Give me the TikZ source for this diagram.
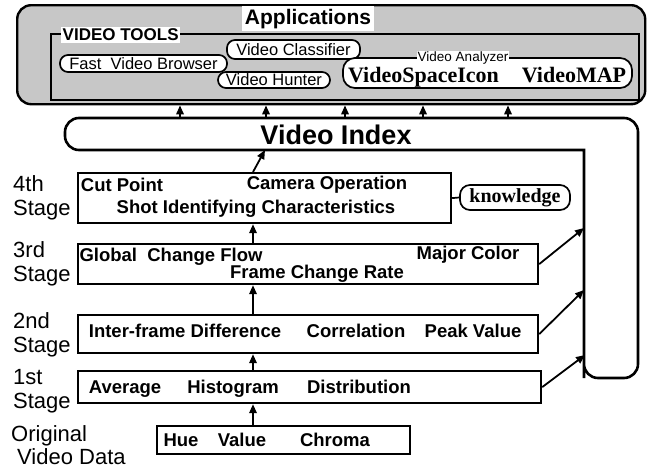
\documentclass[tikz,border=0pt]{standalone}
\usepackage{fontspec}
\setmainfont{Liberation Sans}
\newfontfamily\timesbf{Liberation Serif}
\usetikzlibrary{arrows.meta}

\begin{document}
\begin{tikzpicture}[x=1pt,y=-1pt,
  arr/.style={-{Triangle[length=9pt,width=7.5pt]},line width=1.8pt},
  stagebox/.style={draw,line width=2.2pt,inner sep=0pt,anchor=north west},
  pill/.style={draw,fill=white,line width=1.7pt,rounded corners=8pt,inner sep=0pt,
    font=\fontsize{16.5}{18}\selectfont},
  word/.style={inner sep=0pt,anchor=base,font=\fontsize{18.5}{20}\selectfont\bfseries},
  stagelbl/.style={inner sep=0pt,anchor=west,align=left,font=\fontsize{22}{23.5}\selectfont},
  bigserif/.style={inner sep=0pt,anchor=base,font=\fontsize{22}{24}\selectfont\timesbf\bfseries}]
\useasboundingbox (0,0) rectangle (650,471);

% applications
\node[draw,line width=2.4pt,rounded corners=14pt,fill=black!22,minimum width=628pt,
  minimum height=99pt,anchor=north west] (apps) at (16,4) {};
\node[fill=white,inner sep=2.5pt,anchor=base,font=\fontsize{21}{22}\selectfont\bfseries]
  (appstitle) at (308,24) {Applications};
\node[draw,line width=2pt,minimum width=588pt,minimum height=66pt,anchor=north west]
  (tools) at (50,33) {};
\node[fill=white,inner sep=1.5pt,anchor=west,font=\fontsize{17}{19}\selectfont\bfseries]
  (toolstitle) at (61,35) {VIDEO TOOLS};

\node[pill,minimum width=167pt,minimum height=17pt] (browser) at (143.5,63.5) {Fast\ \ Video Browser};
\node[pill,minimum width=133pt,minimum height=19pt] (classifier) at (293.5,49.5) {Video Classifier};
\node[pill,minimum width=112pt,minimum height=16pt] (hunter) at (274,80) {Video Hunter};
\node[pill,rounded corners=12pt,minimum width=289pt,minimum height=30pt] (analyzer) at (487.5,73) {};
\node[fill=white,inner sep=0.5pt,font=\fontsize{13.5}{15}\selectfont] (analyzertitle) at (463,58) {Video Analyzer};
\node[bigserif] (spaceicon) at (423.5,82) {VideoSpaceIcon};
\node[bigserif] (videomap) at (574,82) {VideoMAP};

% video index
\draw[line width=2.6pt] (65,134) [rounded corners=14pt] -- (65,118) -- (638,118) -- (638,378)
  -- (584,378) -- (584,364) [sharp corners] -- (584,150) -- (79,150) [rounded corners=14pt]
  -- (65,150) -- (65,134);
\node[word,font=\fontsize{27}{28}\selectfont\bfseries] (vilabel) at (336,144) {Video Index};
\foreach \x [count=\i] in {180,266,345,423,508}{
  \coordinate (up\i) at (\x,118);
  \draw[arr] (up\i) -- (up\i |- apps.south);
}
\coordinate (viin) at (265,150);
\coordinate (vi3) at (584,228);
\coordinate (vi2) at (584,290);
\coordinate (vi1) at (585,355);

% stages
\node[stagebox,minimum width=373pt,minimum height=50pt] (s4) at (77,172) {};
\node[stagebox,minimum width=460pt,minimum height=40pt] (s3) at (77,243) {};
\node[stagebox,minimum width=460pt,minimum height=38pt] (s2) at (77,314) {};
\node[stagebox,minimum width=463pt,minimum height=32pt] (s1) at (77,370) {};
\node[stagebox,minimum width=253pt,minimum height=28pt] (s0) at (156,425) {};

\node[stagelbl] (l4) at (13,198) {4th\\Stage};
\node[stagelbl] (l3) at (13,264) {3rd\\Stage};
\node[stagelbl] (l2) at (13,335) {2nd\\Stage};
\node[stagelbl] (l1) at (13,391) {1st\\Stage};
\node[stagelbl] (l0) at (11,445) {Original\\\hspace{6pt}Video Data};

\node[word] (cut) at (122,191) {Cut Point};
\node[word] (camera) at (327,189) {Camera Operation};
\node[word] (shot) at (256,213) {Shot Identifying Characteristics};
\node[word] (global) at (171,261) {Global\ \ Change Flow};
\node[word] (major) at (468,259) {Major Color};
\node[word] (rate) at (317,278) {Frame Change Rate};
\node[word] (inter) at (185,337) {Inter-frame Difference};
\node[word] (corr) at (356,337) {Correlation};
\node[word] (peak) at (473,337) {Peak Value};
\node[word] (avg) at (125,393) {Average};
\node[word] (hist) at (233,393) {Histogram};
\node[word] (distr) at (359,393) {Distribution};
\node[word] (hue) at (181,446) {Hue};
\node[word] (value) at (242,446) {Value};
\node[word] (chroma) at (335,446) {Chroma};

\node[pill,minimum width=110pt,minimum height=25pt,rounded corners=10pt,
  font=\fontsize{20}{22}\selectfont\timesbf\bfseries] (know) at (515,197.5) {knowledge};
\draw[line width=1.7pt] (s4.east) -- (know.west);

\coordinate (spine) at (253,0);
\draw[arr] (s0.north -| spine) -- (s1.south -| spine);
\draw[arr] (s1.north -| spine) -- (s2.south -| spine);
\draw[arr] (s2.north -| spine) -- (s3.south -| spine);
\draw[arr] (s3.north -| spine) -- (s4.south -| spine);
\draw[arr] (s4.north -| spine) -- (viin);
\draw[arr] (s3.east) -- (vi3);
\draw[arr] (s2.east) -- (vi2);
\draw[arr] (s1.east) -- (vi1);
\end{tikzpicture}
\end{document}
